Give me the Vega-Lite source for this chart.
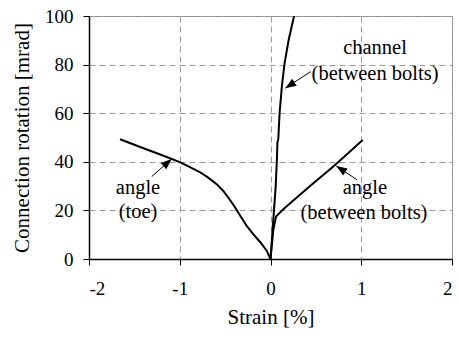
{
  "$schema": "https://vega.github.io/schema/vega-lite/v6.json",
  "width": 363,
  "height": 243,
  "autosize": {"type": "none"},
  "padding": {"left": 89, "top": 16, "right": 6, "bottom": 86},
  "background": "white",
  "config": {
    "view": {"stroke": "#8c8c8c", "strokeWidth": 1},
    "axis": {
      "labelFont": "Liberation Serif",
      "titleFont": "Liberation Serif",
      "labelFontSize": 19,
      "titleFontSize": 21,
      "labelColor": "black",
      "titleColor": "black",
      "titleFontWeight": "normal",
      "domainColor": "black",
      "domainWidth": 1.5,
      "tickColor": "black",
      "tickSize": 6,
      "tickWidth": 1,
      "gridColor": "#9a9a9a",
      "gridDash": [6, 4],
      "gridWidth": 1
    }
  },
  "datasets": {
    "curves": [
      {"series": "angle (toe)", "i": 0, "strain": -1.658, "rotation": 49.3},
      {"series": "angle (toe)", "i": 1, "strain": -1.4, "rotation": 45.6},
      {"series": "angle (toe)", "i": 2, "strain": -1.2, "rotation": 42.8},
      {"series": "angle (toe)", "i": 3, "strain": -1.0, "rotation": 39.9},
      {"series": "angle (toe)", "i": 4, "strain": -0.887, "rotation": 37.8},
      {"series": "angle (toe)", "i": 5, "strain": -0.78, "rotation": 35.8},
      {"series": "angle (toe)", "i": 6, "strain": -0.69, "rotation": 33.6},
      {"series": "angle (toe)", "i": 7, "strain": -0.593, "rotation": 30.8},
      {"series": "angle (toe)", "i": 8, "strain": -0.52, "rotation": 28.0},
      {"series": "angle (toe)", "i": 9, "strain": -0.46, "rotation": 25.0},
      {"series": "angle (toe)", "i": 10, "strain": -0.4, "rotation": 21.8},
      {"series": "angle (toe)", "i": 11, "strain": -0.33, "rotation": 17.6},
      {"series": "angle (toe)", "i": 12, "strain": -0.262, "rotation": 13.6},
      {"series": "angle (toe)", "i": 13, "strain": -0.19, "rotation": 10.2},
      {"series": "angle (toe)", "i": 14, "strain": -0.11, "rotation": 6.8},
      {"series": "angle (toe)", "i": 15, "strain": -0.04, "rotation": 3.3},
      {"series": "angle (toe)", "i": 16, "strain": 0.0, "rotation": 0.0},
      {"series": "channel (between bolts)", "i": 0, "strain": 0.0, "rotation": 0.0},
      {"series": "channel (between bolts)", "i": 1, "strain": 0.031, "rotation": 16.2},
      {"series": "channel (between bolts)", "i": 2, "strain": 0.057, "rotation": 29.8},
      {"series": "channel (between bolts)", "i": 3, "strain": 0.072, "rotation": 42.2},
      {"series": "channel (between bolts)", "i": 4, "strain": 0.076, "rotation": 48.0},
      {"series": "channel (between bolts)", "i": 5, "strain": 0.086, "rotation": 49.3},
      {"series": "channel (between bolts)", "i": 6, "strain": 0.1, "rotation": 60.0},
      {"series": "channel (between bolts)", "i": 7, "strain": 0.125, "rotation": 70.9},
      {"series": "channel (between bolts)", "i": 8, "strain": 0.155, "rotation": 80.5},
      {"series": "channel (between bolts)", "i": 9, "strain": 0.2, "rotation": 90.1},
      {"series": "channel (between bolts)", "i": 10, "strain": 0.26, "rotation": 100.0},
      {"series": "angle (between bolts)", "i": 0, "strain": 0.0, "rotation": 0.0},
      {"series": "angle (between bolts)", "i": 1, "strain": 0.031, "rotation": 12.0},
      {"series": "angle (between bolts)", "i": 2, "strain": 0.061, "rotation": 17.5},
      {"series": "angle (between bolts)", "i": 3, "strain": 0.141, "rotation": 20.5},
      {"series": "angle (between bolts)", "i": 4, "strain": 0.289, "rotation": 25.3},
      {"series": "angle (between bolts)", "i": 5, "strain": 0.472, "rotation": 31.2},
      {"series": "angle (between bolts)", "i": 6, "strain": 0.692, "rotation": 38.1},
      {"series": "angle (between bolts)", "i": 7, "strain": 0.876, "rotation": 44.2},
      {"series": "angle (between bolts)", "i": 8, "strain": 1.016, "rotation": 49.0}
    ],
    "arrows": [
      {"name": "toe", "x": -1.309, "y": 33.9, "tipX": -1.089, "tipY": 41.2},
      {"name": "channel", "x": 0.443, "y": 77.1, "tipX": 0.163, "tipY": 70.3},
      {"name": "bolts", "x": 0.953, "y": 32.6, "tipX": 0.725, "tipY": 38.3}
    ],
    "labels": [
      {"text": "channel", "x": 1.152, "y": 86.8},
      {"text": "(between bolts)", "x": 1.152, "y": 76.1},
      {"text": "angle", "x": 1.041, "y": 29.3},
      {"text": "(between bolts)", "x": 1.03, "y": 19.0},
      {"text": "angle", "x": -1.46, "y": 29.3},
      {"text": "(toe)", "x": -1.46, "y": 19.4}
    ]
  },
  "layer": [
    {
      "data": {"name": "curves"},
      "mark": {"type": "line", "color": "black", "strokeWidth": 2, "clip": true},
      "encoding": {
        "x": {
          "field": "strain", "type": "quantitative",
          "scale": {"domain": [-2, 2], "nice": false},
          "axis": {"values": [-2, -1, 0, 1, 2], "labelExpr": "'' + datum.value", "title": "Strain [%]", "labelPadding": 14, "titlePadding": 8}
        },
        "y": {
          "field": "rotation", "type": "quantitative",
          "scale": {"domain": [0, 100], "nice": false},
          "axis": {"values": [0, 20, 40, 60, 80, 100], "labelExpr": "'' + datum.value", "title": "Connection rotation [mrad]", "labelPadding": 10, "titlePadding": 12}
        },
        "detail": {"field": "series"},
        "order": {"field": "i"}
      }
    },
    {
      "data": {"name": "arrows"},
      "mark": {"type": "rule", "color": "black", "strokeWidth": 1},
      "encoding": {
        "x": {"field": "x", "type": "quantitative"},
        "y": {"field": "y", "type": "quantitative"},
        "x2": {"field": "tipX"},
        "y2": {"field": "tipY"}
      }
    },
    {
      "data": {"name": "arrows"},
      "transform": [{"filter": "datum.name === 'toe'"}],
      "mark": {"type": "point", "shape": "M0,0L0.38,1L-0.38,1Z", "filled": true, "color": "black", "opacity": 1, "size": 480, "angle": 48.5},
      "encoding": {
        "x": {"field": "tipX", "type": "quantitative"},
        "y": {"field": "tipY", "type": "quantitative"}
      }
    },
    {
      "data": {"name": "arrows"},
      "transform": [{"filter": "datum.name === 'channel'"}],
      "mark": {"type": "point", "shape": "M0,0L0.38,1L-0.38,1Z", "filled": true, "color": "black", "opacity": 1, "size": 480, "angle": 236.8},
      "encoding": {
        "x": {"field": "tipX", "type": "quantitative"},
        "y": {"field": "tipY", "type": "quantitative"}
      }
    },
    {
      "data": {"name": "arrows"},
      "transform": [{"filter": "datum.name === 'bolts'"}],
      "mark": {"type": "point", "shape": "M0,0L0.38,1L-0.38,1Z", "filled": true, "color": "black", "opacity": 1, "size": 480, "angle": 304},
      "encoding": {
        "x": {"field": "tipX", "type": "quantitative"},
        "y": {"field": "tipY", "type": "quantitative"}
      }
    },
    {
      "data": {"name": "labels"},
      "mark": {"type": "text", "font": "Liberation Serif", "fontSize": 20.5, "color": "black", "align": "center", "baseline": "middle"},
      "encoding": {
        "x": {"field": "x", "type": "quantitative"},
        "y": {"field": "y", "type": "quantitative"},
        "text": {"field": "text"}
      }
    }
  ]
}
